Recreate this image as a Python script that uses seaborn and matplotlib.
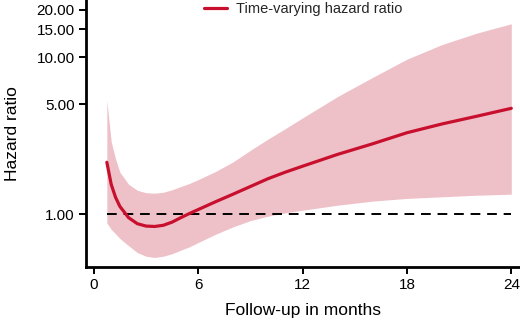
import matplotlib
matplotlib.use("Agg")
import matplotlib.pyplot as plt
import seaborn as sns
import pandas as pd
from matplotlib.ticker import FixedLocator, FixedFormatter, NullLocator

months = [0.75, 1.0, 1.25, 1.5, 2.0, 2.5, 3.0, 3.5, 4.0, 4.5, 5.0, 5.5, 6.0,
          7.0, 8.0, 9.0, 10.0, 11.0, 12.0, 14.0, 16.0, 18.0, 20.0, 22.0, 24.0]
hazard_ratio = [2.14, 1.55, 1.28, 1.12, 0.95, 0.87, 0.84, 0.835, 0.85, 0.89, 0.95, 1.01, 1.07,
                1.2, 1.34, 1.5, 1.68, 1.85, 2.02, 2.4, 2.8, 3.3, 3.75, 4.2, 4.72]
upper_ci = [5.3, 2.9, 2.25, 1.85, 1.55, 1.42, 1.37, 1.36, 1.38, 1.43, 1.5, 1.57, 1.66,
            1.87, 2.15, 2.55, 3.0, 3.5, 4.1, 5.6, 7.4, 9.7, 12.0, 14.2, 16.3]
lower_ci = [0.88, 0.80, 0.75, 0.70, 0.63, 0.57, 0.54, 0.53, 0.54, 0.56, 0.59, 0.62, 0.66,
            0.745, 0.83, 0.91, 0.97, 1.02, 1.06, 1.14, 1.21, 1.26, 1.29, 1.32, 1.34]
reference_hr = [1.0] * len(months)

y_ticks = [1, 5, 10, 15, 20]
y_tick_labels = ["1.00", "5.00", "10.00", "15.00", "20.00"]
x_ticks = [0, 6, 12, 18, 24]

df = pd.DataFrame({"month": months, "hr": hazard_ratio, "lo": lower_ci,
                   "hi": upper_ci, "ref": reference_hr})

sns.set_theme(style="ticks")
plt.rcParams["font.family"] = ["Liberation Sans", "DejaVu Sans"]

fig = plt.figure(figsize=(5.2, 3.25), dpi=100)
ax = fig.add_axes([0.165, 0.178, 0.835, 0.822])

ax.fill_between(df["month"], df["lo"], df["hi"], color="#EEC1C9", linewidth=0, zorder=1)
sns.lineplot(data=df, x="month", y="ref", ax=ax, color="black", linewidth=1.4,
             linestyle=(0, (5, 3.5)), zorder=2)
sns.lineplot(data=df, x="month", y="hr", ax=ax, color="#C8102E", linewidth=2.3,
             label="Time-varying hazard ratio", zorder=3)

ax.set_yscale("log")
ax.set_ylim(0.46, 23.1)
ax.set_xlim(-0.46, 24.5)
ax.yaxis.set_major_locator(FixedLocator(y_ticks))
ax.yaxis.set_major_formatter(FixedFormatter(y_tick_labels))
ax.yaxis.set_minor_locator(NullLocator())
ax.set_xticks(x_ticks)

for s in ["top", "right"]:
    ax.spines[s].set_visible(False)
for s in ["left", "bottom"]:
    ax.spines[s].set_linewidth(2.0)
    ax.spines[s].set_color("black")
ax.tick_params(axis="both", direction="out", length=5, width=1.4, colors="black",
               labelsize=11, pad=3)

ax.set_xlabel("Follow-up in months", fontsize=12.5, labelpad=8, color="black")
ax.set_ylabel("Hazard ratio", fontsize=12.5, labelpad=12, color="black")

leg = ax.legend(loc="upper center", bbox_to_anchor=(0.5, 1.04), frameon=False,
                fontsize=10.5, handlelength=1.6, handletextpad=0.6)

fig.savefig("out.png", dpi=100)
